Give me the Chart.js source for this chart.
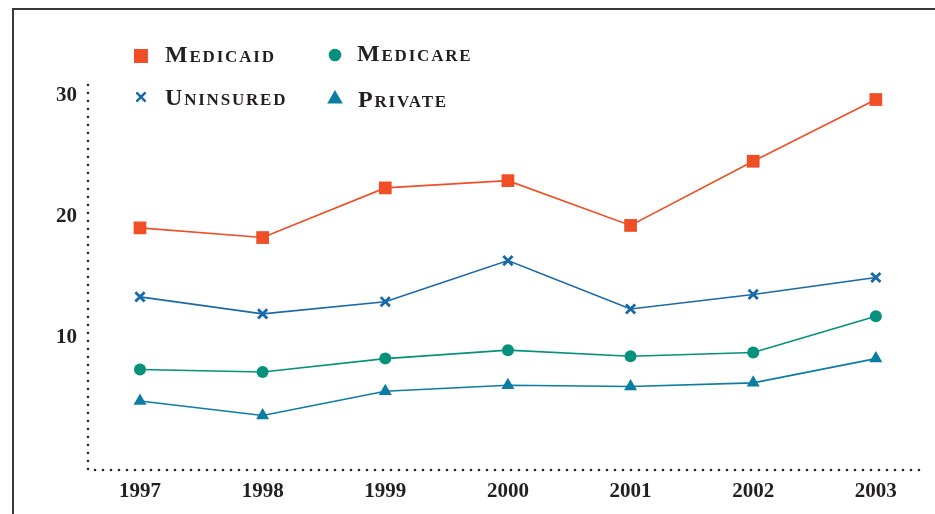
<!DOCTYPE html>
<html>
<head>
<meta charset="utf-8">
<script src="https://cdn.jsdelivr.net/npm/chart.js@4/dist/chart.umd.min.js"></script>
<style>
  html, body { margin: 0; padding: 0; background: #fff; }
  #wrap { position: relative; width: 935px; height: 514px; }
  #frame { position: absolute; left: 12px; top: 8px; right: 0; bottom: 0;
           border-top: 2px solid #3a3a3a; border-left: 2px solid #3a3a3a; }
  canvas { position: absolute; left: 0; top: 0; }
</style>
</head>
<body>
<div id="wrap">
  <div id="frame"></div>
  <canvas id="myChart" width="935" height="514"></canvas>
</div>
<script>
(() => {
    'use strict'

    // data
    const years = [1997, 1998, 1999, 2000, 2001, 2002, 2003]
    const medicaid = [19.1, 18.3, 22.4, 23.0, 19.3, 24.6, 29.7]
    const uninsured = [13.4, 12.0, 13.0, 16.4, 12.4, 13.6, 15.0]
    const medicare = [7.4, 7.2, 8.3, 9.0, 8.5, 8.8, 11.8]
    const privateIns = [4.8, 3.6, 5.6, 6.1, 6.0, 6.3, 8.3]
    const yTicks = [10, 20, 30]

    const serif = '"Liberation Serif", "DejaVu Serif", serif'
    const pts = arr => arr.map((v, i) => ({ x: years[i], y: v }))

    const series = [
        { label: 'Medicaid', data: medicaid, color: '#f04e25', style: 'rect', r: 9, bw: 0 },
        { label: 'Uninsured', data: uninsured, color: '#1769a8', style: 'crossRot', r: 6.5, bw: 2.8 },
        { label: 'Medicare', data: medicare, color: '#05917c', style: 'circle', r: 6, bw: 0 },
        { label: 'Private', data: privateIns, color: '#0b7ca3', style: 'triangle', r: 7.5, bw: 0 }
    ]

    // legend layout: [series index, marker x, marker y, text x, baseline]
    const legendSlots = [
        [0, 141, 56, 165, 62],
        [2, 335, 55, 357, 61],
        [1, 141, 97, 165, 105],
        [3, 335, 99, 358, 107]
    ]

    const frame = {
        id: 'frame',
        afterDraw(chart) {
            const { ctx, chartArea: a } = chart
            ctx.save()
            // dotted axes
            ctx.strokeStyle = '#222'
            ctx.lineWidth = 2.6
            ctx.lineCap = 'round'
            ctx.setLineDash([0, 8])
            ctx.beginPath()
            ctx.moveTo(a.left, a.top)
            ctx.lineTo(a.left, a.bottom)
            ctx.lineTo(a.right, a.bottom)
            ctx.stroke()
            ctx.setLineDash([])

            // legend
            ctx.font = 'small-caps bold 24px ' + serif
            ctx.letterSpacing = '1.8px'
            ctx.textBaseline = 'alphabetic'
            ctx.textAlign = 'left'
            legendSlots.forEach(([i, mx, my, tx, ty]) => {
                const s = series[i]
                ctx.fillStyle = s.color
                ctx.strokeStyle = s.color
                ctx.lineWidth = s.style === 'crossRot' ? 2.5 : 0
                Chart.helpers.drawPoint(ctx, {
                    pointStyle: s.style, radius: s.style === 'rect' ? 8 : s.r - 1,
                    rotation: 0, borderWidth: ctx.lineWidth
                }, mx, my)
                ctx.fillStyle = '#231f20'
                ctx.fillText(s.label, tx, ty)
            })
            ctx.restore()
        }
    }

    const myChart = new Chart(document.getElementById('myChart'), {
        type: 'line',
        data: {
            datasets: series.map(s => ({
                label: s.label,
                data: pts(s.data),
                borderColor: s.color,
                backgroundColor: s.color,
                borderWidth: 1.6,
                pointStyle: s.style,
                pointRadius: s.r,
                pointBorderWidth: s.bw,
                pointBackgroundColor: s.color,
                pointBorderColor: s.color,
                tension: 0
            }))
        },
        options: {
            responsive: false,
            animation: false,
            layout: { padding: { top: 85, right: 15, left: 0, bottom: 0 } },
            plugins: {
                legend: { display: false },
                tooltip: { enabled: false }
            },
            scales: {
                x: {
                    type: 'linear',
                    min: 1996.576,
                    max: 2003.36,
                    grid: { display: false, drawTicks: false },
                    border: { display: false },
                    afterBuildTicks: sc => { sc.ticks = years.map(v => ({ value: v })) },
                    afterFit: sc => { sc.height = 44 },
                    ticks: {
                        padding: 9,
                        color: '#231f20',
                        font: { family: serif, size: 21, weight: 'bold' },
                        callback: v => String(v)
                    }
                },
                y: {
                    min: -0.9,
                    max: 30.9,
                    grid: { display: false, drawTicks: false },
                    border: { display: false },
                    afterBuildTicks: sc => { sc.ticks = yTicks.map(v => ({ value: v })) },
                    afterFit: sc => { sc.width = 88 },
                    ticks: {
                        padding: 11,
                        color: '#231f20',
                        font: { family: serif, size: 21, weight: 'bold' }
                    }
                }
            }
        },
        plugins: [frame]
    })
})()
</script>
</body>
</html>
